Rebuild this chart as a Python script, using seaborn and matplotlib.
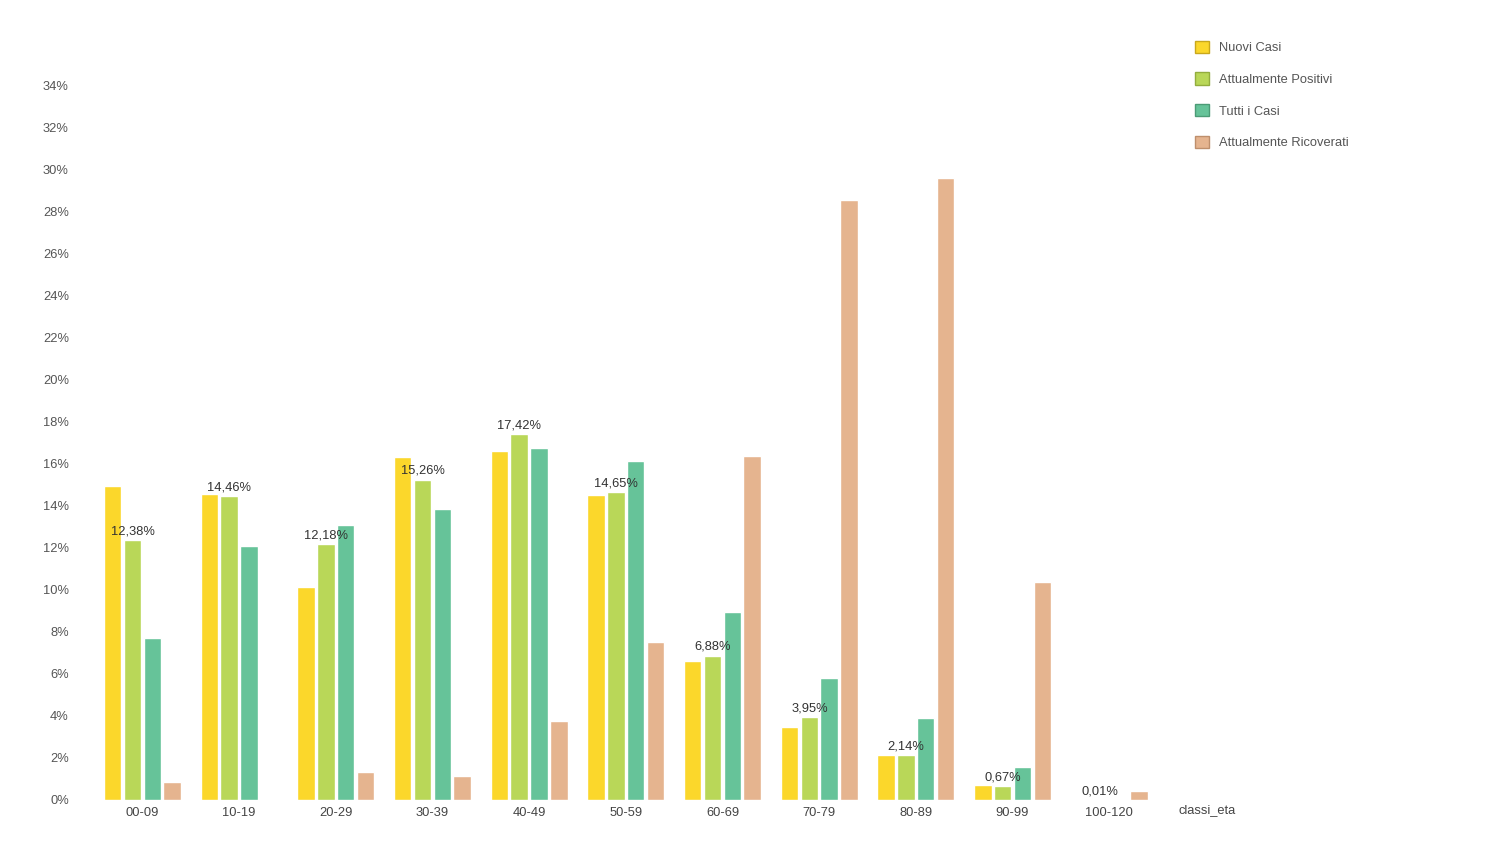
import pandas as pd
import matplotlib
matplotlib.use("Agg")
import matplotlib.pyplot as plt
import seaborn as sns
from matplotlib.patches import Patch

# age classes and the four series (percent)
classi = ["00-09", "10-19", "20-29", "30-39", "40-49", "50-59",
          "60-69", "70-79", "80-89", "90-99", "100-120"]
nuovi_casi = [14.95, 14.57, 10.14, 16.33, 16.62, 14.52, 6.62, 3.48, 2.14, 0.71, 0.01]
attualmente_positivi = [12.38, 14.46, 12.18, 15.26, 17.42, 14.65, 6.88, 3.95, 2.14, 0.67, 0.01]
tutti_casi = [7.71, 12.10, 13.10, 13.86, 16.76, 16.14, 8.95, 5.81, 3.90, 1.57, 0.02]
ricoverati = [0.86, 0.0, 1.33, 1.14, 3.76, 7.52, 16.38, 28.57, 29.62, 10.38, 0.43]

series = ["Nuovi Casi", "Attualmente Positivi", "Tutti i Casi", "Attualmente Ricoverati"]
colors = ["#FBD72B", "#B9D758", "#66C399", "#E5B48F"]
edges = ["#C9A81C", "#93AD3E", "#4C9B76", "#BE8F6C"]

df = pd.DataFrame({
    "classi_eta": classi * 4,
    "serie": [s for s in series for _ in classi],
    "valore": nuovi_casi + attualmente_positivi + tutti_casi + ricoverati,
})

sns.set_style("white")
plt.rcParams['font.family'] = ['Liberation Sans', 'DejaVu Sans']

fig = plt.figure(figsize=(15, 8.44), dpi=100)
ax = fig.add_axes([80 / 1500, 44 / 844, 1080 / 1500, 714 / 844])

sns.barplot(data=df, x="classi_eta", y="valore", hue="serie", hue_order=series,
            palette=colors, width=0.82, gap=0.12, ax=ax, legend=False, saturation=1)

# value labels on "Attualmente Positivi"
for i, v in enumerate(attualmente_positivi):
    x = i - 0.1
    ax.annotate(f"{v:.2f}%".replace(".", ","), (x, v), xytext=(0, 2),
                textcoords="offset points", ha="center", va="bottom",
                fontsize=9.3, color="#333333")

ax.set_xlim(-0.645, 10.525)
ax.set_ylim(0, 34)
ax.set_yticks(range(0, 35, 2))
ax.set_yticklabels([f"{t}%" for t in range(0, 35, 2)])
ax.tick_params(axis="y", length=2, color="#dddddd", labelsize=9.3, labelcolor="#555555", pad=6)
ax.tick_params(axis="x", length=0, labelsize=9.3, labelcolor="#444444", pad=5)
ax.set_xlabel("")
ax.set_ylabel("")
for s in ax.spines.values():
    s.set_visible(False)

fig.text(1207 / 1500, 1 - 810 / 844, "classi_eta", ha="center", va="center",
         fontsize=9.3, color="#444444")

handles = [Patch(facecolor=c, edgecolor=e, linewidth=1) for c, e in zip(colors, edges)]
fig.legend(handles, series, loc="upper left", bbox_to_anchor=(1183 / 1500, 1 - 29 / 844),
           frameon=False, fontsize=9.3, labelcolor="#555555", handlelength=1.1,
           handleheight=1.1, labelspacing=1.4, handletextpad=0.8)

fig.savefig("out.png", dpi=100)
